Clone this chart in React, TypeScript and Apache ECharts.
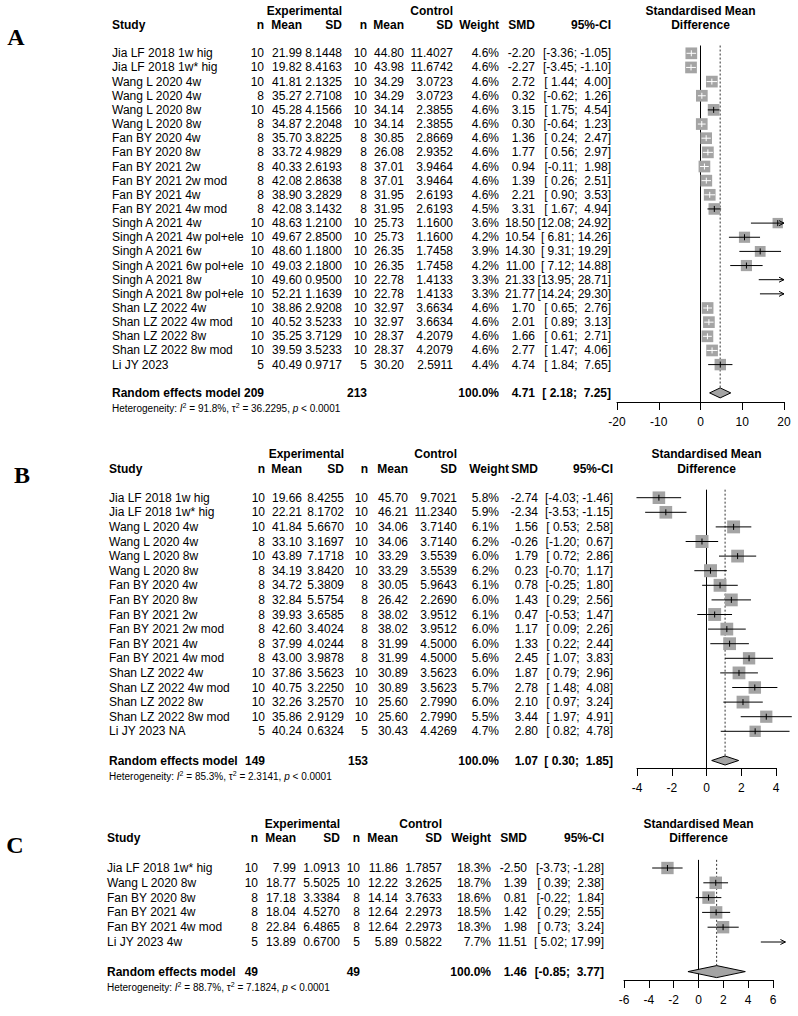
import React, { useEffect, useRef } from "react";
import * as echarts from "echarts";

// ---------------- Panel A ----------------
const studiesA = ["Jia LF 2018 1w hig", "Jia LF 2018 1w* hig", "Wang L 2020 4w", "Wang L 2020 4w", "Wang L 2020 8w", "Wang L 2020 8w", "Fan BY 2020 4w", "Fan BY 2020 8w", "Fan BY 2021 2w", "Fan BY 2021 2w mod", "Fan BY 2021 4w", "Fan BY 2021 4w mod", "Singh A 2021 4w", "Singh A 2021 4w pol+ele", "Singh A 2021 6w", "Singh A 2021 6w pol+ele", "Singh A 2021 8w", "Singh A 2021 8w pol+ele", "Shan LZ 2022 4w", "Shan LZ 2022 4w mod", "Shan LZ 2022 8w", "Shan LZ 2022 8w mod", "Li JY 2023"];
const expNA = [10, 10, 10, 8, 10, 8, 8, 8, 8, 8, 8, 8, 10, 10, 10, 10, 10, 10, 10, 10, 10, 10, 5];
const expMeanA = [21.99, 19.82, 41.81, 35.27, 45.28, 34.87, 35.7, 33.72, 40.33, 42.08, 38.9, 42.08, 48.63, 49.67, 48.6, 49.03, 49.6, 52.21, 38.86, 40.52, 35.25, 39.59, 40.49];
const expSDA = [8.1448, 8.4163, 2.1325, 2.7108, 4.1566, 2.2048, 3.8225, 4.9829, 2.6193, 2.8638, 3.2829, 3.1432, 1.21, 2.85, 1.18, 2.18, 0.95, 1.1639, 2.9208, 3.5233, 3.7129, 3.5233, 0.9717];
const ctrlNA = [10, 10, 10, 10, 10, 10, 8, 8, 8, 8, 8, 8, 10, 10, 10, 10, 10, 10, 10, 10, 10, 10, 5];
const ctrlMeanA = [44.8, 43.98, 34.29, 34.29, 34.14, 34.14, 30.85, 26.08, 37.01, 37.01, 31.95, 31.95, 25.73, 25.73, 26.35, 26.35, 22.78, 22.78, 32.97, 32.97, 28.37, 28.37, 30.2];
const ctrlSDA = [11.4027, 11.6742, 3.0723, 3.0723, 2.3855, 2.3855, 2.8669, 2.9352, 3.9464, 3.9464, 2.6193, 2.6193, 1.16, 1.16, 1.7458, 1.7458, 1.4133, 1.4133, 3.6634, 3.6634, 4.2079, 4.2079, 2.5911];
const weightA = [4.6, 4.6, 4.6, 4.6, 4.6, 4.6, 4.6, 4.6, 4.6, 4.6, 4.6, 4.5, 3.6, 4.2, 3.9, 4.2, 3.3, 3.3, 4.6, 4.6, 4.6, 4.6, 4.4];
const smdA = [-2.2, -2.27, 2.72, 0.32, 3.15, 0.3, 1.36, 1.77, 0.94, 1.39, 2.21, 3.31, 18.5, 10.54, 14.3, 11.0, 21.33, 21.77, 1.7, 2.01, 1.66, 2.77, 4.74];
const lowerA = [-3.36, -3.45, 1.44, -0.62, 1.75, -0.64, 0.24, 0.56, -0.11, 0.26, 0.9, 1.67, 12.08, 6.81, 9.31, 7.12, 13.95, 14.24, 0.65, 0.89, 0.61, 1.47, 1.84];
const upperA = [-1.05, -1.1, 4.0, 1.26, 4.54, 1.23, 2.47, 2.97, 1.98, 2.51, 3.53, 4.94, 24.92, 14.26, 19.29, 14.88, 28.71, 29.3, 2.76, 3.13, 2.71, 4.06, 7.65];
const totalsA = [209, 213];
const summaryA = [4.71, 2.18, 7.25];
const hetA = ["91.8%", "36.2295", "< 0.0001"];
const ticksA = [-20, 20, 10];

// ---------------- Panel B ----------------
const studiesB = ["Jia LF 2018 1w hig", "Jia LF 2018 1w* hig", "Wang L 2020 4w", "Wang L 2020 4w", "Wang L 2020 8w", "Wang L 2020 8w", "Fan BY 2020 4w", "Fan BY 2020 8w", "Fan BY 2021 2w", "Fan BY 2021 2w mod", "Fan BY 2021 4w", "Fan BY 2021 4w mod", "Shan LZ 2022 4w", "Shan LZ 2022 4w mod", "Shan LZ 2022 8w", "Shan LZ 2022 8w mod", "Li JY 2023 NA"];
const expNB = [10, 10, 10, 8, 10, 8, 8, 8, 8, 8, 8, 8, 10, 10, 10, 10, 5];
const expMeanB = [19.66, 22.21, 41.84, 33.1, 43.89, 34.19, 34.72, 32.84, 39.93, 42.6, 37.99, 43.0, 37.86, 40.75, 32.26, 35.86, 40.24];
const expSDB = [8.4255, 8.1702, 5.667, 3.1697, 7.1718, 3.842, 5.3809, 5.5754, 3.6585, 3.4024, 4.0244, 3.9878, 3.5623, 3.225, 3.257, 2.9129, 0.6324];
const ctrlNB = [10, 10, 10, 10, 10, 10, 8, 8, 8, 8, 8, 8, 10, 10, 10, 10, 5];
const ctrlMeanB = [45.7, 46.21, 34.06, 34.06, 33.29, 33.29, 30.05, 26.42, 38.02, 38.02, 31.99, 31.99, 30.89, 30.89, 25.6, 25.6, 30.43];
const ctrlSDB = [9.7021, 11.234, 3.714, 3.714, 3.5539, 3.5539, 5.9643, 2.269, 3.9512, 3.9512, 4.5, 4.5, 3.5623, 3.5623, 2.799, 2.799, 4.4269];
const weightB = [5.8, 5.9, 6.1, 6.2, 6.0, 6.2, 6.1, 6.0, 6.1, 6.0, 6.0, 5.6, 6.0, 5.7, 6.0, 5.5, 4.7];
const smdB = [-2.74, -2.34, 1.56, -0.26, 1.79, 0.23, 0.78, 1.43, 0.47, 1.17, 1.33, 2.45, 1.87, 2.78, 2.1, 3.44, 2.8];
const lowerB = [-4.03, -3.53, 0.53, -1.2, 0.72, -0.7, -0.25, 0.29, -0.53, 0.09, 0.22, 1.07, 0.79, 1.48, 0.97, 1.97, 0.82];
const upperB = [-1.46, -1.15, 2.58, 0.67, 2.86, 1.17, 1.8, 2.56, 1.47, 2.26, 2.44, 3.83, 2.96, 4.08, 3.24, 4.91, 4.78];
const totalsB = [149, 153];
const summaryB = [1.07, 0.3, 1.85];
const hetB = ["85.3%", "2.3141", "< 0.0001"];
const ticksB = [-4, 4, 2];

// ---------------- Panel C ----------------
const studiesC = ["Jia LF 2018 1w* hig", "Wang L 2020 8w", "Fan BY 2020 8w", "Fan BY 2021 4w", "Fan BY 2021 4w mod", "Li JY 2023 4w"];
const expNC = [10, 10, 8, 8, 8, 5];
const expMeanC = [7.99, 18.77, 17.18, 18.04, 22.84, 13.89];
const expSDC = [1.0913, 5.5025, 3.3384, 4.527, 6.4865, 0.67];
const ctrlNC = [10, 10, 8, 8, 8, 5];
const ctrlMeanC = [11.86, 12.22, 14.14, 12.64, 12.64, 5.89];
const ctrlSDC = [1.7857, 3.2625, 3.7633, 2.2973, 2.2973, 0.5822];
const weightC = [18.3, 18.7, 18.6, 18.5, 18.3, 7.7];
const smdC = [-2.5, 1.39, 0.81, 1.42, 1.98, 11.51];
const lowerC = [-3.73, 0.39, -0.22, 0.29, 0.73, 5.02];
const upperC = [-1.28, 2.38, 1.84, 2.55, 3.24, 17.99];
const totalsC = [49, 49];
const summaryC = [1.46, -0.85, 3.77];
const hetC = ["88.7%", "7.1824", "< 0.0001"];
const ticksC = [-6, 6, 2];

// ---------------- Layout (pixels) ----------------
const FONT = "'Liberation Sans', Arial, Helvetica, sans-serif";
const GRAY = "#a4a4a4";

const layoutA = { label: "A", labelX: 16, labelY: 37, y0: 53.3, dy: 14.15, axisY: 402, xLeft: 617, xRight: 784, lim: 20, cols: [112, 264, 302, 342, 367, 404, 453, 499, 535, 611], weightHead: 499, maxBox: 11.7, dHalf: 5 };
const layoutB = { label: "B", labelX: 22, labelY: 475, y0: 497.7, dy: 14.6, axisY: 768, xLeft: 637, xRight: 776, lim: 6, cols: [109, 265, 302, 344, 368, 408, 457, 499, 538, 613], weightHead: 509, maxBox: 13, dHalf: 4.5 };
const layoutC = { label: "C", labelX: 15, labelY: 845, y0: 868, dy: 14.8, axisY: 980, xLeft: 624, xRight: 773, lim: 7, cols: [107, 258, 296, 340, 360, 398, 442, 491, 527, 604], weightHead: 491, maxBox: 12.5, dHalf: 6 };

type Cell = { x: number; text: string; align: string; bold?: boolean; het?: boolean };
type TRow = { row: number; dyPx: number; cells: Cell[] };

function ciStrings(lo: number[], hi: number[], s: number[]) {
  const ls = lo.map((v) => v.toFixed(2));
  const hs = hi.map((v) => v.toFixed(2));
  const sl = s[1].toFixed(2);
  const sh = s[2].toFixed(2);
  const lw = Math.max(sl.length, ...ls.map((t) => t.length));
  const hw = Math.max(sh.length, ...hs.map((t) => t.length));
  const f = (a: string, b: string) => `[${a.padStart(lw)}; ${b.padStart(hw)}]`;
  return { rows: ls.map((l, i) => f(l, hs[i])), summary: f(sl, sh) };
}

function makePanel(d: any, L: any) {
  const n = d.studies.length;
  const c = L.cols;
  const center = (L.xLeft + L.xRight) / 2;
  const ci = ciStrings(d.lower, d.upper, d.summary);
  const rows: TRow[] = [];
  rows.push({
    row: -3, dyPx: 0, cells: [
      { x: c[3], text: "Experimental", align: "right", bold: true },
      { x: c[6], text: "Control", align: "right", bold: true },
      { x: center, text: "Standardised Mean", align: "center", bold: true },
    ],
  });
  rows.push({
    row: -2, dyPx: 0, cells: [
      { x: c[0], text: "Study", align: "left", bold: true },
      { x: c[1], text: "n", align: "right", bold: true },
      { x: c[2], text: "Mean", align: "right", bold: true },
      { x: c[3], text: "SD", align: "right", bold: true },
      { x: c[4], text: "n", align: "right", bold: true },
      { x: c[5], text: "Mean", align: "right", bold: true },
      { x: c[6], text: "SD", align: "right", bold: true },
      { x: L.weightHead, text: "Weight", align: "right", bold: true },
      { x: c[8], text: "SMD", align: "right", bold: true },
      { x: c[9], text: "95%-CI", align: "right", bold: true },
      { x: center, text: "Difference", align: "center", bold: true },
    ],
  });
  for (let i = 0; i < n; i++) {
    rows.push({
      row: i, dyPx: 0, cells: [
        { x: c[0], text: d.studies[i], align: "left" },
        { x: c[1], text: String(d.expN[i]), align: "right" },
        { x: c[2], text: d.expMean[i].toFixed(2), align: "right" },
        { x: c[3], text: d.expSD[i].toFixed(4), align: "right" },
        { x: c[4], text: String(d.ctrlN[i]), align: "right" },
        { x: c[5], text: d.ctrlMean[i].toFixed(2), align: "right" },
        { x: c[6], text: d.ctrlSD[i].toFixed(4), align: "right" },
        { x: c[7], text: d.weight[i].toFixed(1) + "%", align: "right" },
        { x: c[8], text: d.smd[i].toFixed(2), align: "right" },
        { x: c[9], text: ci.rows[i], align: "right" },
      ],
    });
  }
  rows.push({
    row: n + 1, dyPx: 0, cells: [
      { x: c[0], text: "Random effects model", align: "left", bold: true },
      { x: c[1], text: String(d.totals[0]), align: "right", bold: true },
      { x: c[4], text: String(d.totals[1]), align: "right", bold: true },
      { x: c[7], text: "100.0%", align: "right", bold: true },
      { x: c[8], text: d.summary[0].toFixed(2), align: "right", bold: true },
      { x: c[9], text: ci.summary, align: "right", bold: true },
    ],
  });
  rows.push({
    row: n + 1, dyPx: 16, cells: [
      { x: c[0], text: `Heterogeneity: {it|I}{sup|2} = ${d.het[0]}, τ{sup|2} = ${d.het[1]}, {it|p} ${d.het[2]}`, align: "left", het: true },
    ],
  });
  return { d, L, n, rows, yMax: (L.axisY - L.y0) / L.dy, maxW: Math.max(...d.weight) };
}

const panels = [
  makePanel({ studies: studiesA, expN: expNA, expMean: expMeanA, expSD: expSDA, ctrlN: ctrlNA, ctrlMean: ctrlMeanA, ctrlSD: ctrlSDA, weight: weightA, smd: smdA, lower: lowerA, upper: upperA, totals: totalsA, summary: summaryA, het: hetA, ticks: ticksA }, layoutA),
  makePanel({ studies: studiesB, expN: expNB, expMean: expMeanB, expSD: expSDB, ctrlN: ctrlNB, ctrlMean: ctrlMeanB, ctrlSD: ctrlSDB, weight: weightB, smd: smdB, lower: lowerB, upper: upperB, totals: totalsB, summary: summaryB, het: hetB, ticks: ticksB }, layoutB),
  makePanel({ studies: studiesC, expN: expNC, expMean: expMeanC, expSD: expSDC, ctrlN: ctrlNC, ctrlMean: ctrlMeanC, ctrlSD: ctrlSDC, weight: weightC, smd: smdC, lower: lowerC, upper: upperC, totals: totalsC, summary: summaryC, het: hetC, ticks: ticksC }, layoutC),
];

function buildOption() {
  const series: any[] = [];
  panels.forEach((p, pi) => {
    const { d, L } = p;
    // zero line and dotted summary line
    series.push({
      type: "custom", coordinateSystem: "cartesian2d", xAxisIndex: pi, yAxisIndex: pi, silent: true,
      data: [[d.summary[0], p.n + 1]],
      renderItem: (params: any, api: any) => {
        const s = api.value(0);
        const r = api.value(1);
        const z0 = api.coord([0, -0.55]);
        const z1 = api.coord([0, p.yMax]);
        const s0 = api.coord([s, -0.55]);
        const s1 = api.coord([s, r]);
        return {
          type: "group", children: [
            { type: "line", shape: { x1: z0[0], y1: z0[1], x2: z1[0], y2: z1[1] }, style: { stroke: "#000", lineWidth: 1 } },
            { type: "line", shape: { x1: s0[0], y1: s0[1], x2: s1[0], y2: s1[1] - L.dHalf }, style: { stroke: "#333", lineWidth: 1, lineDash: [2, 2] } },
          ],
        };
      },
    });
    // study squares and confidence intervals
    series.push({
      type: "custom", coordinateSystem: "cartesian2d", xAxisIndex: pi, yAxisIndex: pi, silent: true,
      data: d.smd.map((v: number, i: number) => [v, i, d.lower[i], d.upper[i], d.weight[i]]),
      renderItem: (params: any, api: any) => {
        const est = api.value(0), row = api.value(1), lo = api.value(2), hi = api.value(3), w = api.value(4);
        const lim = L.lim;
        const pe = api.coord([est, row]);
        const y = pe[1];
        const xl = api.coord([Math.max(lo, -lim), row])[0];
        const xh = api.coord([Math.min(hi, lim), row])[0];
        const box = L.maxBox * Math.sqrt(w / p.maxW);
        const inside = est >= -lim && est <= lim;
        const white = inside && xh - xl < box - 0.5;
        const col = white ? "#ffffff" : "#000000";
        const ch: any[] = [];
        if (inside) ch.push({ type: "rect", shape: { x: pe[0] - box / 2, y: y - box / 2, width: box, height: box }, style: { fill: GRAY } });
        ch.push({ type: "line", shape: { x1: xl, y1: y, x2: xh, y2: y }, style: { stroke: col, lineWidth: 1 } });
        if (inside) ch.push({ type: "line", shape: { x1: pe[0], y1: y - 3, x2: pe[0], y2: y + 3 }, style: { stroke: col, lineWidth: 1 } });
        if (hi > lim) ch.push({ type: "polyline", shape: { points: [[xh - 5, y - 2.5], [xh, y], [xh - 5, y + 2.5]] }, style: { stroke: "#000", fill: "none", lineWidth: 1 } });
        if (lo < -lim) ch.push({ type: "polyline", shape: { points: [[xl + 5, y - 2.5], [xl, y], [xl + 5, y + 2.5]] }, style: { stroke: "#000", fill: "none", lineWidth: 1 } });
        return { type: "group", children: ch };
      },
    });
    // summary diamond
    series.push({
      type: "custom", coordinateSystem: "cartesian2d", xAxisIndex: pi, yAxisIndex: pi, silent: true,
      data: [[d.summary[0], p.n + 1, d.summary[1], d.summary[2]]],
      renderItem: (params: any, api: any) => {
        const c = api.coord([api.value(0), api.value(1)]);
        const l = api.coord([api.value(2), api.value(1)]);
        const h = api.coord([api.value(3), api.value(1)]);
        return {
          type: "polygon",
          shape: { points: [[l[0], c[1]], [c[0], c[1] - L.dHalf], [h[0], c[1]], [c[0], c[1] + L.dHalf]] },
          style: { fill: GRAY, stroke: "#000", lineWidth: 1 },
        };
      },
    });
    // table text
    series.push({
      type: "custom", coordinateSystem: "cartesian2d", xAxisIndex: pi, yAxisIndex: pi, silent: true,
      data: p.rows.map((r) => [0, r.row]),
      renderItem: (params: any, api: any) => {
        const r = p.rows[params.dataIndex];
        const y = api.coord([0, api.value(1)])[1] + r.dyPx;
        return {
          type: "group",
          children: r.cells.map((cell) => {
            const size = cell.het ? 10 : 12;
            const style: any = {
              text: cell.text, fill: "#000",
              fontSize: size, fontFamily: FONT, fontWeight: cell.bold ? "bold" : "normal",
              align: cell.align, verticalAlign: "middle",
              textAlign: cell.align, textVerticalAlign: "middle",
            };
            if (cell.het) {
              style.rich = {
                it: { fontSize: 10, fontFamily: FONT, fontStyle: "italic", fill: "#000" },
                sup: { fontSize: 7, fontFamily: FONT, fill: "#000", padding: [0, 0, 6, 0] },
              };
            }
            return { type: "text", x: cell.x, y, style };
          }),
        };
      },
    });
  });

  return {
    animation: false,
    backgroundColor: "#ffffff",
    grid: panels.map((p) => ({
      left: p.L.xLeft, top: p.L.y0 - p.L.dy, width: p.L.xRight - p.L.xLeft,
      height: p.L.axisY - (p.L.y0 - p.L.dy), containLabel: false, outerBoundsMode: "none",
    })),
    xAxis: panels.map((p, i) => ({
      gridIndex: i, type: "value", min: p.d.ticks[0], max: p.d.ticks[1], interval: p.d.ticks[2],
      axisLine: { show: true, onZero: false, lineStyle: { color: "#000", width: 1 } },
      axisTick: { show: true, length: 8, lineStyle: { color: "#000", width: 1 } },
      axisLabel: { color: "#000", fontSize: 12, fontFamily: FONT, margin: 14 },
      splitLine: { show: false },
    })),
    yAxis: panels.map((p, i) => ({
      gridIndex: i, type: "value", min: -1, max: p.yMax, inverse: true, show: false,
      axisLabel: { show: false }, axisTick: { show: false }, axisLine: { show: false }, splitLine: { show: false },
    })),
    graphic: panels.map((p) => ({
      type: "text", x: p.L.labelX, y: p.L.labelY,
      style: {
        text: p.L.label, fill: "#000", font: `bold 24px 'Liberation Serif', 'Times New Roman', serif`,
        align: "center", verticalAlign: "middle", textAlign: "center", textVerticalAlign: "middle",
      },
    })),
    series,
  };
}

export default function App() {
  const ref = useRef<HTMLDivElement>(null);
  useEffect(() => {
    document.body.style.margin = "0";
    const chart = echarts.init(ref.current as HTMLDivElement, undefined, { renderer: "svg", width: 798, height: 1016 });
    chart.setOption(buildOption() as any);
    return () => chart.dispose();
  }, []);
  return <div ref={ref} style={{ width: 798, height: 1016, background: "#fff" }} />;
}
